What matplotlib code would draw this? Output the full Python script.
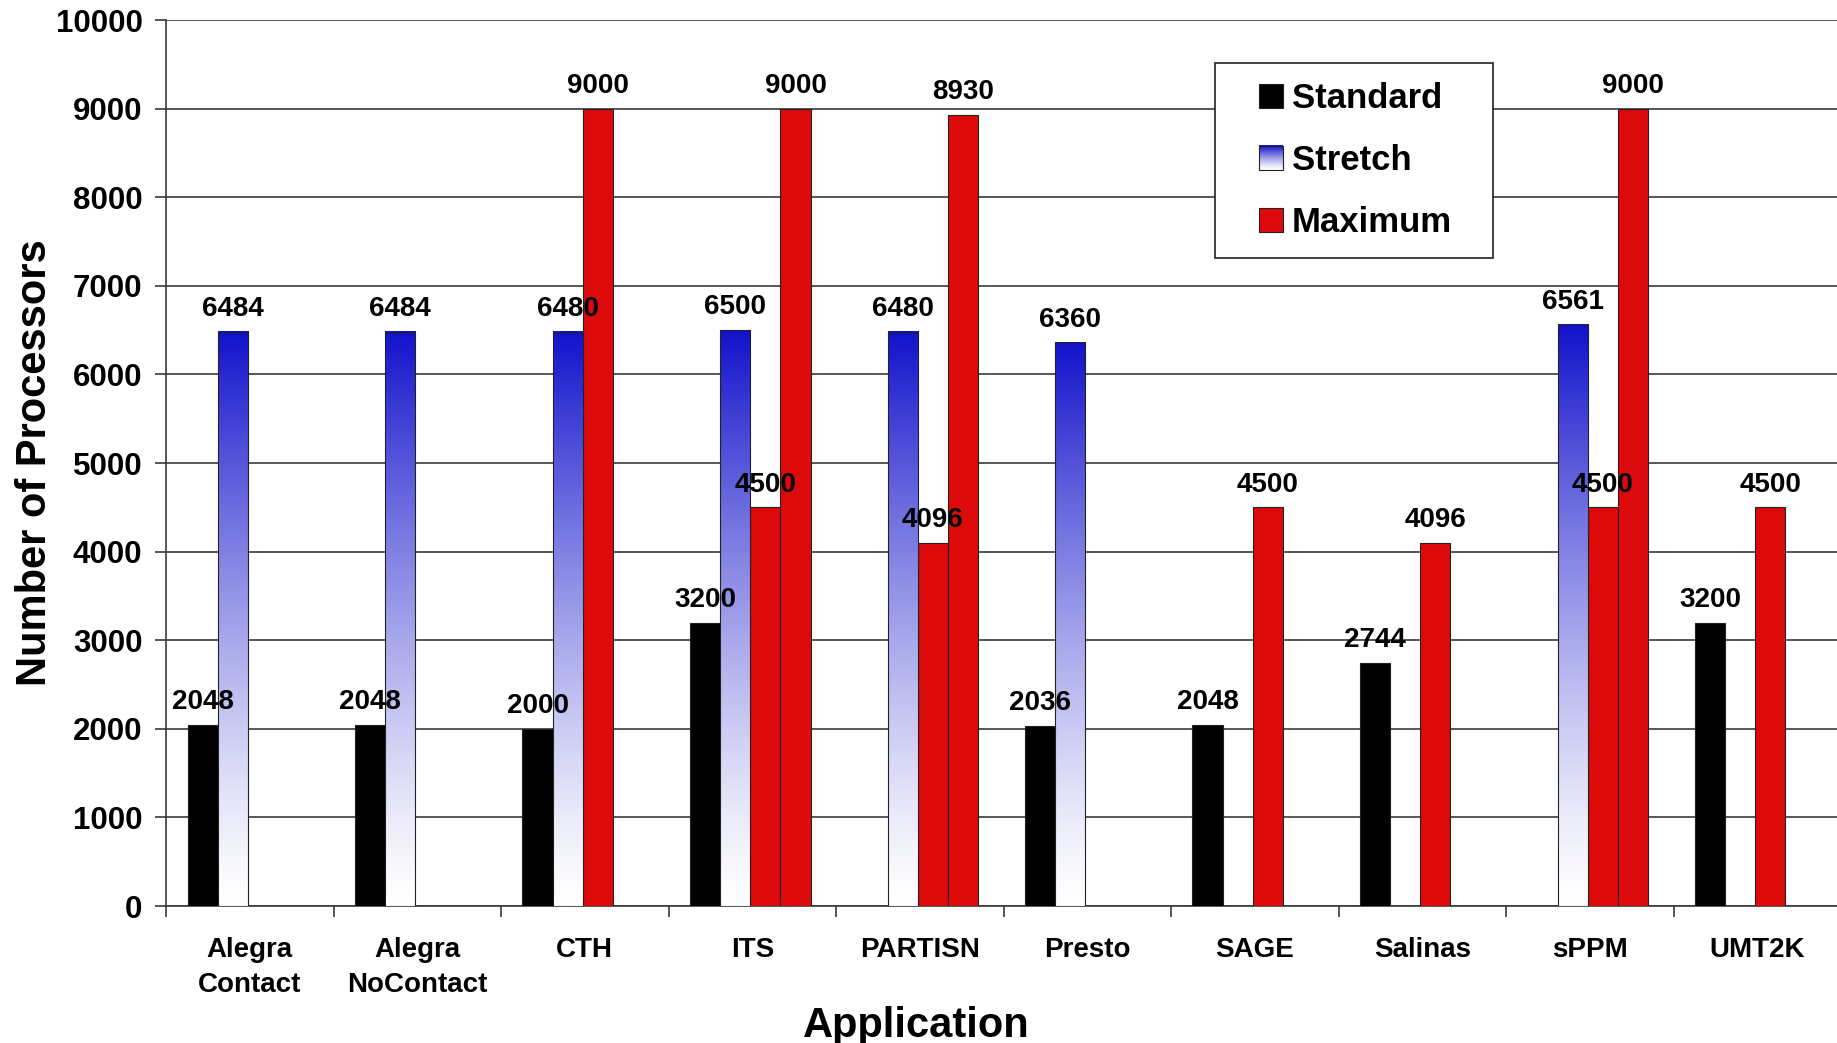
import numpy as np
import matplotlib
matplotlib.use('Agg')
import matplotlib.pyplot as plt
from matplotlib.patches import Rectangle, Patch
from matplotlib.legend_handler import HandlerBase
from matplotlib.colors import LinearSegmentedColormap, to_rgb
from matplotlib.offsetbox import DrawingArea

# ---------------- data ----------------
categories = ['Alegra\nContact', 'Alegra\nNoContact', 'CTH', 'ITS', 'PARTISN',
              'Presto', 'SAGE', 'Salinas', 'sPPM', 'UMT2K']
standard = [2048, 2048, 2000, 3200, np.nan, 2036, 2048, 2744, np.nan, 3200]
stretch = [6484, 6484, 6480, 6500, 6480, 6360, np.nan, np.nan, 6561, np.nan]
maximum_a = [np.nan, np.nan, 9000, 4500, 4096, np.nan, 4500, 4096, 4500, 4500]
maximum_b = [np.nan, np.nan, np.nan, 9000, 8930, np.nan, np.nan, np.nan, 9000, np.nan]
yticks = list(range(0, 10001, 1000))
series_names = ['Standard', 'Stretch', 'Maximum']

# ---------------- style ----------------
BLACK = '#000000'
RED = '#DC0A0A'
BLUE_TOP = '#1212CC'
EDGE = '#222222'
GRID = '#3a3a3a'

plt.rcParams['font.family'] = ['Liberation Sans', 'DejaVu Sans']
plt.rcParams['font.weight'] = 'bold'

fig = plt.figure(figsize=(18.37, 10.43), dpi=100)
ax = fig.add_axes([0.0904, 0.1313, 0.9118, 0.8495])

x = np.arange(len(categories))
w = 0.18
offs = [(i - 1.5) * w - 0.012 for i in range(4)]

# gradient colormap (white bottom -> blue top), slightly non-linear
top = np.array(to_rgb(BLUE_TOP))
tt = np.linspace(0, 1, 256) ** 1.3
grad_colors = (1 - tt)[:, None] * np.array([1.0, 1.0, 1.0]) + tt[:, None] * top
grad_cmap = LinearSegmentedColormap.from_list('stretch', grad_colors)


def valid(vals):
    idx = [i for i, v in enumerate(vals) if not np.isnan(v)]
    return idx, [vals[i] for i in idx]


# Standard
i_s, v_s = valid(standard)
ax.bar(x[i_s] + offs[0], v_s, w, color=BLACK, edgecolor=EDGE, lw=0.8, zorder=3)

# Stretch (gradient)
i_t, v_t = valid(stretch)
st_bars = ax.bar(x[i_t] + offs[1], v_t, w, facecolor='none', edgecolor=EDGE, lw=0.8, zorder=4)
grad = np.linspace(0, 1, 256).reshape(-1, 1)
for b in st_bars:
    x0, y0 = b.get_x(), b.get_y()
    ax.imshow(grad, cmap=grad_cmap, origin='lower', aspect='auto', interpolation='bilinear',
              extent=(x0, x0 + b.get_width(), y0, y0 + b.get_height()), zorder=3.5)

# white filler above lower Maximum bar up to Stretch height (as in the original)
i_f = [i for i in range(len(categories))
       if not np.isnan(stretch[i]) and not np.isnan(maximum_a[i]) and stretch[i] > maximum_a[i]]
ax.bar(x[i_f] + offs[2], [stretch[i] - maximum_a[i] for i in i_f], w,
       bottom=[maximum_a[i] for i in i_f], color='white', lw=0, zorder=2.5)

# Maximum
i_a, v_a = valid(maximum_a)
ax.bar(x[i_a] + offs[2], v_a, w, color=RED, edgecolor=EDGE, lw=0.8, zorder=3)
i_b, v_b = valid(maximum_b)
ax.bar(x[i_b] + offs[3], v_b, w, color=RED, edgecolor=EDGE, lw=0.8, zorder=3)

# value labels
for slot, vals in enumerate([standard, stretch, maximum_a, maximum_b]):
    idx, vv = valid(vals)
    for i, v in zip(idx, vv):
        ax.annotate(f'{int(v)}', (x[i] + offs[slot], v), xytext=(0, 7),
                    textcoords='offset points', ha='center', va='bottom',
                    fontsize=20, fontweight='bold', zorder=6)

# axes
ax.set_xlim(-0.5, len(categories) - 0.5)
ax.set_ylim(0, 10000)
ax.set_yticks(yticks)
ax.set_yticklabels([str(t) for t in yticks])
ax.yaxis.grid(True, color=GRID, lw=1.2, zorder=0.5)
ax.set_axisbelow(True)
for s in ['top', 'right']:
    ax.spines[s].set_visible(False)
for s in ['left', 'bottom']:
    ax.spines[s].set_color(GRID)
    ax.spines[s].set_linewidth(1.2)

ax.set_xticks(np.arange(-0.5, len(categories) + 0.5, 1.0))
ax.set_xticklabels([])
ax.set_xticks(x, categories, minor=True)
ax.tick_params(axis='x', which='major', length=8, width=1.2, color=GRID, direction='out')
ax.tick_params(axis='x', which='minor', length=0, pad=22.5, labelsize=20)
ax.tick_params(axis='y', length=8, width=1.2, color=GRID, direction='out', pad=9, labelsize=22.5)
for lab in ax.get_xticklabels(minor=True):
    lab.set_fontweight('bold')
    lab.set_linespacing(1.45)
for lab in ax.get_yticklabels():
    lab.set_fontweight('bold')

ax.set_ylabel('Number of Processors', fontsize=30, fontweight='bold')
ax.yaxis.set_label_coords(-0.0665, 0.5)
ax.set_xlabel('Application', fontsize=30, fontweight='bold')
ax.xaxis.set_label_coords(0.448, -0.113)


# legend
class SquareHandler(HandlerBase):
    def __init__(self, kind, size=17.3):
        super().__init__()
        self.kind = kind
        self.size = size

    def create_artists(self, legend, orig_handle, xdescent, ydescent, width, height, fontsize, trans):
        s = self.size
        x0 = width - s - xdescent
        y0 = (height - s) / 2 - ydescent
        arts = []
        if self.kind == 'gradient':
            n = 24
            for k in range(n):
                c = grad_cmap((k + 0.5) / n)
                r = Rectangle((x0, y0 + k * s / n), s, s / n + 0.3, facecolor=c, lw=0, transform=trans)
                arts.append(r)
            arts.append(Rectangle((x0, y0), s, s, facecolor='none', edgecolor=EDGE, lw=0.8, transform=trans))
        else:
            arts.append(Rectangle((x0, y0), s, s, facecolor=self.kind, edgecolor=EDGE, lw=0.8, transform=trans))
        return arts


h_std = Patch(facecolor=BLACK)
h_str = Patch(facecolor=BLUE_TOP)
h_max = Patch(facecolor=RED)
leg = ax.legend([h_std, h_str, h_max], series_names,
                handler_map={h_std: SquareHandler(BLACK), h_str: SquareHandler('gradient'),
                             h_max: SquareHandler(RED)},
                loc='upper left', bbox_to_anchor=(1215 / 1837, 1 - 63 / 1043),
                bbox_transform=fig.transFigure, borderaxespad=0, borderpad=0.55,
                handlelength=1.41, handleheight=0.7, handletextpad=0.26, labelspacing=0.83,
                fancybox=False, framealpha=1, edgecolor='#222222',
                prop={'size': 25, 'weight': 'bold'})
leg.get_frame().set_linewidth(1.2)
leg.set_zorder(10)
try:
    for col in leg._legend_handle_box.get_children():
        for row in col.get_children():
            row.get_children().append(DrawingArea(9, 1))
except Exception:
    pass

fig.savefig('out.png', dpi=100)
